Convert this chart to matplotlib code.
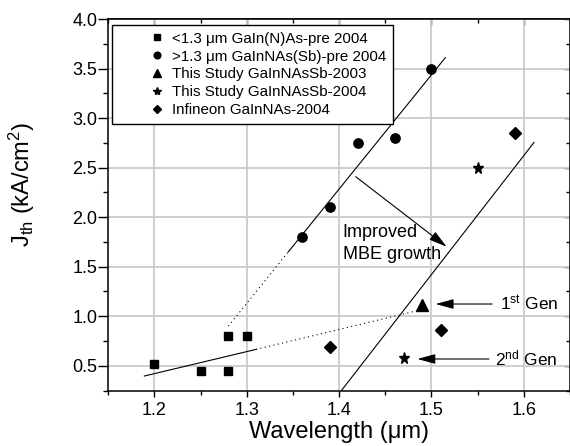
import matplotlib
matplotlib.use("Agg")
import matplotlib.pyplot as plt
from matplotlib.ticker import MultipleLocator

plt.rcParams['font.family'] = ['Liberation Sans', 'DejaVu Sans']
plt.rcParams['mathtext.fontset'] = 'custom'
plt.rcParams['mathtext.rm'] = 'Liberation Sans'
plt.rcParams['mathtext.it'] = 'Liberation Sans:italic'

# ---- data ----
sq_x = [1.20, 1.25, 1.28, 1.28, 1.30]
sq_y = [0.52, 0.45, 0.45, 0.80, 0.80]
ci_x = [1.36, 1.39, 1.42, 1.46, 1.50]
ci_y = [1.80, 2.10, 2.75, 2.80, 3.50]
tr_x = [1.49]
tr_y = [1.11]
st_x = [1.55, 1.47]
st_y = [2.50, 0.575]
di_x = [1.39, 1.51, 1.59]
di_y = [0.685, 0.86, 2.85]

fit1_solid_x = [1.345, 1.515]
fit1_solid_y = [1.65, 3.61]
fit1_dot_x = [1.28, 1.345]
fit1_dot_y = [0.90, 1.65]
fit2_x = [1.4025, 1.611]
fit2_y = [0.25, 2.754]
fit3_solid_x = [1.189, 1.31]
fit3_solid_y = [0.396, 0.665]
fit3_dot_x = [1.31, 1.4865]
fit3_dot_y = [0.665, 1.06]

labels = ["<1.3 \u03bcm GaIn(N)As-pre 2004",
          ">1.3 \u03bcm GaInNAs(Sb)-pre 2004",
          "This Study GaInNAsSb-2003",
          "This Study GaInNAsSb-2004",
          "Infineon GaInNAs-2004"]

fig = plt.figure(figsize=(5.7, 4.46), dpi=100)
ax = fig.add_axes([108.3 / 570, 1 - 390.5 / 446, 1 - 108.3 / 570, (390.5 - 19) / 446])

ax.set_xlim(1.15, 1.65)
ax.set_ylim(0.25, 4.0)

ax.grid(True, which='major', color='#cccccc', lw=1.3, zorder=0)
ax.set_axisbelow(True)

lw = 0.8
ax.plot(fit1_solid_x, fit1_solid_y, color='black', lw=lw, zorder=2)
ax.plot(fit1_dot_x, fit1_dot_y, color='black', lw=lw, ls=(0, (1, 3)), zorder=2)
ax.plot(fit2_x, fit2_y, color='black', lw=lw, zorder=2)
ax.plot(fit3_solid_x, fit3_solid_y, color='black', lw=lw, zorder=2)
ax.plot(fit3_dot_x, fit3_dot_y, color='black', lw=lw, ls=(0, (1, 3)), zorder=2)

ax.plot(sq_x, sq_y, 's', color='black', ms=6, ls='none', label=labels[0], zorder=3)
ax.plot(ci_x, ci_y, 'o', color='black', ms=6.7, ls='none', label=labels[1], zorder=3)
ax.plot(tr_x, tr_y, '^', color='black', ms=8, ls='none', label=labels[2], zorder=3)
ax.plot(st_x, st_y, '*', color='black', ms=8.3, ls='none', label=labels[3], zorder=3)
ax.plot(di_x, di_y, 'D', color='black', ms=6.3, ls='none', label=labels[4], zorder=3)

leg = ax.legend(loc='upper left', bbox_to_anchor=(0.007, 0.984), borderaxespad=0,
                fontsize=10.9, markerscale=0.72, handlelength=5.1, handletextpad=-1.55,
                labelspacing=0.25, borderpad=0.45, fancybox=False, framealpha=1,
                edgecolor='black')
leg.get_frame().set_linewidth(1.0)

# annotations
ap_big = dict(arrowstyle='-|>,head_length=1.1,head_width=0.3', color='black', lw=0.8,
              shrinkA=0, shrinkB=0, mutation_scale=10)
ax.annotate('', xy=(1.5164, 1.701), xytext=(1.418, 2.408), arrowprops=ap_big)
ax.text(1.404, 1.796, 'Improved', fontsize=13, va='baseline', ha='left')
ax.text(1.404, 1.574, 'MBE growth', fontsize=13, va='baseline', ha='left')

ax.annotate('', xy=(1.5045, 1.123), xytext=(1.5657, 1.123), arrowprops=ap_big)
ax.text(1.5737, 1.058, r'1$^{\mathrm{st}}$ Gen', fontsize=12.5, va='baseline', ha='left')
ax.annotate('', xy=(1.4847, 0.568), xytext=(1.5622, 0.568), arrowprops=ap_big)
ax.text(1.5686, 0.507, r'2$^{\mathrm{nd}}$ Gen', fontsize=12.5, va='baseline', ha='left')

# ticks
ax.xaxis.set_minor_locator(MultipleLocator(0.05))
ax.yaxis.set_minor_locator(MultipleLocator(0.25))
ax.set_yticks([0.5, 1.0, 1.5, 2.0, 2.5, 3.0, 3.5, 4.0])
ax.set_xticks([1.2, 1.3, 1.4, 1.5, 1.6])
ax.set_yticklabels(['0.5', '1.0', '1.5', '2.0', '2.5', '3.0', '3.5', '4.0'])
ax.set_xticklabels(['1.2', '1.3', '1.4', '1.5', '1.6'])

ax.tick_params(axis='x', which='major', direction='out', length=4.5, width=1, labelsize=13, pad=4)
ax.tick_params(axis='x', which='minor', direction='out', length=3, width=1)
ax.tick_params(axis='y', which='major', direction='out', length=7, width=1, labelsize=13, pad=1)
ax.tick_params(axis='y', which='minor', direction='out', length=3.5, width=1)

for s in ax.spines.values():
    s.set_linewidth(1.1)
    s.set_color('black')

# top & right inward ticks
axt = ax.secondary_xaxis('top')
axt.xaxis.set_major_locator(MultipleLocator(0.1))
axt.xaxis.set_minor_locator(MultipleLocator(0.05))
axt.tick_params(which='major', direction='in', length=4.5, width=1, labeltop=False)
axt.tick_params(which='minor', direction='in', length=3, width=1)
axt.spines['top'].set_linewidth(1.1)
axr = ax.secondary_yaxis('right')
axr.yaxis.set_major_locator(MultipleLocator(0.5))
axr.yaxis.set_minor_locator(MultipleLocator(0.25))
axr.tick_params(which='major', direction='in', length=4.5, width=1, labelright=False)
axr.tick_params(which='minor', direction='in', length=3, width=1)

ax.set_xlabel('Wavelength (\u03bcm)', fontsize=17, labelpad=1)
ax.set_ylabel(r'J$_{\mathrm{th}}$ (kA/cm$^{2}$)', fontsize=17)
ax.yaxis.set_label_coords(-0.155, 0.556)

fig.savefig('out.png', dpi=100)
